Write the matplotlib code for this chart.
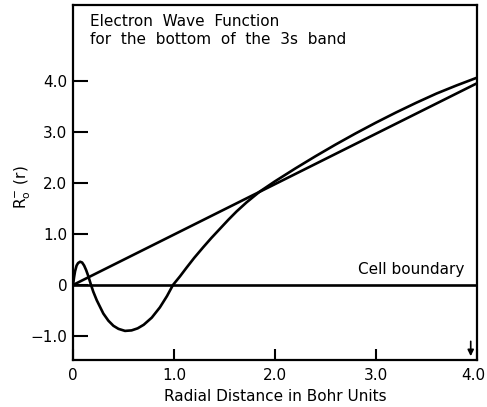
import numpy as np
import matplotlib
matplotlib.use("Agg")
import matplotlib.pyplot as plt
from matplotlib.transforms import ScaledTranslation

# Wave function values (r in Bohr units)
r_wave = [0.0, 0.01, 0.02, 0.035, 0.05, 0.07, 0.09, 0.11, 0.13, 0.15, 0.175, 0.20, 0.235,
          0.27, 0.30, 0.35, 0.40, 0.45, 0.515, 0.58, 0.64, 0.70, 0.78, 0.86, 0.93, 0.99,
          1.06, 1.125, 1.2, 1.29, 1.37, 1.455, 1.54, 1.62, 1.72, 1.85, 2.0, 2.2, 2.4,
          2.6, 2.8, 3.0, 3.2, 3.4, 3.6, 3.8, 4.0]
R_wave = [0.0, 0.15, 0.27, 0.38, 0.43, 0.455, 0.44, 0.38, 0.29, 0.18, 0.02, -0.13, -0.30,
          -0.44, -0.56, -0.70, -0.80, -0.86, -0.90, -0.89, -0.85, -0.78, -0.64, -0.44, -0.22, 0.0,
          0.17, 0.34, 0.53, 0.74, 0.92, 1.10, 1.28, 1.44, 1.62, 1.83, 2.03, 2.28, 2.52,
          2.75, 2.97, 3.18, 3.38, 3.57, 3.75, 3.91, 4.06]

# straight line through the origin
r_line = [0.0, 4.0]
R_line = [0.0, 3.95]

# cell boundary (zero line)
r_cell = [0.0, 4.0]
R_cell = [0.0, 0.0]

xticks = [0, 1, 2, 3, 4]
xlabels = ["0", "1.0", "2.0", "3.0", "4.0"]
yticks = [-1, 0, 1, 2, 3, 4]
ylabels = ["\u22121.0", "0", "1.0", "2.0", "3.0", "4.0"]

fig = plt.figure(figsize=(4.87, 4.07), dpi=100)
ax = fig.add_axes([0.150, 0.1155, 0.829, 0.8715])

lw = 1.9
ax.plot(r_wave, R_wave, color="black", lw=lw, solid_joinstyle="round")
ax.plot(r_line, R_line, color="black", lw=lw)
ax.plot(r_cell, R_cell, color="black", lw=lw)

ax.set_xlim(0, 4.0)
ax.set_ylim(-1.47, 5.48)

ax.set_xticks(xticks)
ax.set_xticklabels(xlabels, fontsize=11)
ax.set_yticks(yticks)
ax.set_yticklabels(ylabels, fontsize=11)
ax.tick_params(axis="x", direction="in", length=8, width=1.5, pad=6)
ax.tick_params(axis="y", direction="in", length=11, width=1.5, pad=4)

# last x label sits on the figure edge, nudge it in a little
last = ax.get_xticklabels()[-1]
last.set_transform(last.get_transform() + ScaledTranslation(-3 / 100, 0, fig.dpi_scale_trans))

for s in ax.spines.values():
    s.set_linewidth(1.6)

ax.set_xlabel("Radial Distance in Bohr Units", fontsize=11, labelpad=4)
ax.set_ylabel(r"R$_\mathregular{o}^{\mathregular{-}}$ (r)", fontsize=11)
ax.yaxis.set_label_coords(-0.10, 0.487)

ax.text(0.17, 5.31, "Electron  Wave  Function\nfor  the  bottom  of  the  3s  band",
        fontsize=11, ha="left", va="top", linespacing=1.25)
ax.text(3.88, 0.30, "Cell boundary", fontsize=11, ha="right", va="center")

# arrow marking the cell boundary on the r axis
ax.annotate("", xy=(3.94, -1.45), xytext=(3.94, -1.05),
            arrowprops=dict(arrowstyle="-|>", color="black", lw=1.2, mutation_scale=9))

fig.savefig("out.png", dpi=100)
